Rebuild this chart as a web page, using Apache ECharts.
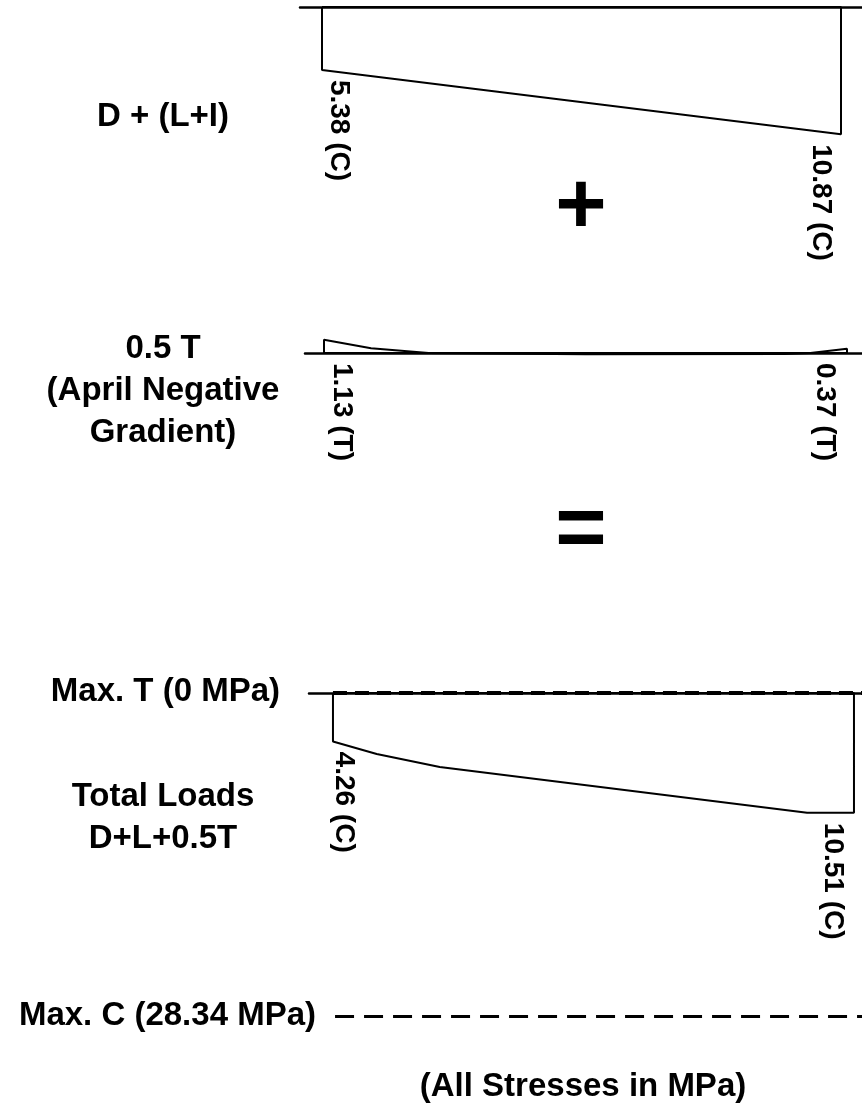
<!DOCTYPE html>
<html>
<head>
<meta charset="utf-8">
<script src="https://cdn.jsdelivr.net/npm/echarts@6/dist/echarts.min.js"></script>
<style>
html,body{margin:0;padding:0;background:#fff;}
#c{width:862px;height:1105px;}
</style>
</head>
<body>
<div id="c"></div>
<script>
// ---- data ----
const diagramTitles = [['D + (L+I)'], ['0.5 T', '(April Negative', 'Gradient)'], ['Total Loads', 'D+L+0.5T']];
const topPos = [0, 1];
const topStress = [5.38, 10.87];              // compression positive
const tempPos = [0, 0.09, 0.2, 0.5, 0.88, 0.93, 1];
const tempStress = [-1.13, -0.4, 0, 0.1, 0.08, 0, -0.37]; // negative = tension
const totalPos = [0, 0.084, 0.205, 0.91, 1];
const totalStress = [4.26, 5.35, 6.5, 10.51, 10.51];
const maxT = 0;
const maxC = 28.34;
const operators = ['+', '='];
const footNote = '(All Stresses in MPa)';

// ---- layout ----
const FONT = '"Liberation Sans", Arial, Helvetica, sans-serif';
const grids = [
  {left: 300, width: 562, top: 7, height: 140.4, xmin: -0.0424, xmax: 1.0405, ymin: 0, ymax: 12},
  {left: 305, width: 557, top: 329.6, height: 46.8, xmin: -0.0363, xmax: 1.0287, ymin: -2, ymax: 2},
  {left: 309, width: 553, top: 693, height: 342, xmin: -0.046, xmax: 1.0154, ymin: 0, ymax: 30}
];
const series = [[topPos, topStress], [tempPos, tempStress], [totalPos, totalStress]];

function polygon(pos, vals) {
  const pts = [[pos[0], 0]];
  pos.forEach((p, i) => pts.push([p, vals[i]]));
  pts.push([pos[pos.length - 1], 0]);
  pts.push([pos[0], 0]);
  return pts;
}

const chart = echarts.init(document.getElementById('c'), null, {renderer: 'canvas'});
const option = {
  backgroundColor: '#fff',
  animation: false,
  grid: grids.map(g => ({left: g.left, width: g.width, top: g.top, height: g.height, containLabel: false})),
  xAxis: grids.map((g, i) => ({
    type: 'value', gridIndex: i, min: g.xmin, max: g.xmax,
    axisLine: {show: true, onZero: true, lineStyle: {color: '#000', width: 2.5}},
    axisTick: {show: false}, axisLabel: {show: false}, splitLine: {show: false}
  })),
  yAxis: grids.map((g, i) => ({
    type: 'value', gridIndex: i, min: g.ymin, max: g.ymax, inverse: true, show: false,
    splitLine: {show: false}
  })),
  series: series.map((s, i) => {
    const o = {
      type: 'line', xAxisIndex: i, yAxisIndex: i,
      data: polygon(s[0], s[1]),
      symbol: 'none', smooth: false,
      lineStyle: {color: '#000', width: 2},
      silent: true
    };
    if (i === 2) {
      o.markLine = {
        symbol: 'none', silent: true, label: {show: false},
        data: [
          [{coord: [0, maxT], lineStyle: {type: [14, 8], width: 4, color: '#000'}}, {coord: [grids[2].xmax, maxT]}],
          [{coord: [0.004, maxC], lineStyle: {type: [19, 10], width: 3, color: '#000'}}, {coord: [grids[2].xmax, maxC]}]
        ]
      };
    }
    return o;
  })
};
chart.setOption(option);

// ---- text annotations placed through the chart's own coordinate conversion ----
const labelOffsets = [[17, -20], [18, -22], [11, -21]];
const g = [];
function fmt(v) { return Math.abs(v).toFixed(2) + (v >= 0 ? ' (C)' : ' (T)'); }
series.forEach((s, i) => {
  const pos = s[0], vals = s[1];
  const ends = [0, pos.length - 1];
  ends.forEach((k, j) => {
    const p = chart.convertToPixel({gridIndex: i}, [pos[k], vals[k]]);
    const base = chart.convertToPixel({gridIndex: i}, [pos[k], 0]);
    const y0 = Math.max(p[1], base[1]) + 10;
    g.push({
      type: 'text', x: p[0] + labelOffsets[i][j], y: y0, rotation: -Math.PI / 2,
      style: {text: fmt(vals[k]), font: 'bold 28px ' + FONT, fill: '#000',
        textAlign: 'left', textVerticalAlign: 'middle', align: 'left', verticalAlign: 'middle'}
    });
  });
});
// left titles
const titleCenters = [117, 391, 818];
diagramTitles.forEach((lines, i) => {
  const n = lines.length;
  lines.forEach((t, j) => {
    g.push({type: 'text', x: 163, y: titleCenters[i] + (j - (n - 1) / 2) * 42,
      style: {text: t, font: 'bold 33px ' + FONT, fill: '#000', textAlign: 'center', textVerticalAlign: 'middle', align: 'center', verticalAlign: 'middle'}});
  });
});
// max lines labels
const tPix = chart.convertToPixel({gridIndex: 2}, [0, maxT]);
const cPix = chart.convertToPixel({gridIndex: 2}, [0, maxC]);
g.push({type: 'text', x: 280, y: tPix[1] - 1,
  style: {text: 'Max. T (' + maxT + ' MPa)', font: 'bold 33px ' + FONT, fill: '#000', textAlign: 'right', textVerticalAlign: 'middle', align: 'right', verticalAlign: 'middle'}});
g.push({type: 'text', x: 316, y: cPix[1],
  style: {text: 'Max. C (' + maxC + ' MPa)', font: 'bold 33px ' + FONT, fill: '#000', textAlign: 'right', textVerticalAlign: 'middle', align: 'right', verticalAlign: 'middle'}});
// operators
[[581, 209], [581, 532]].forEach((c, i) => {
  g.push({type: 'text', x: c[0], y: c[1],
    style: {text: operators[i], font: 'bold 88px ' + FONT, fill: '#000', textAlign: 'center', textVerticalAlign: 'middle', align: 'center', verticalAlign: 'middle'}});
});
g.push({type: 'text', x: 583, y: 1087,
  style: {text: footNote, font: 'bold 33px ' + FONT, fill: '#000', textAlign: 'center', textVerticalAlign: 'middle', align: 'center', verticalAlign: 'middle'}});

chart.setOption({graphic: g});
</script>
</body>
</html>
